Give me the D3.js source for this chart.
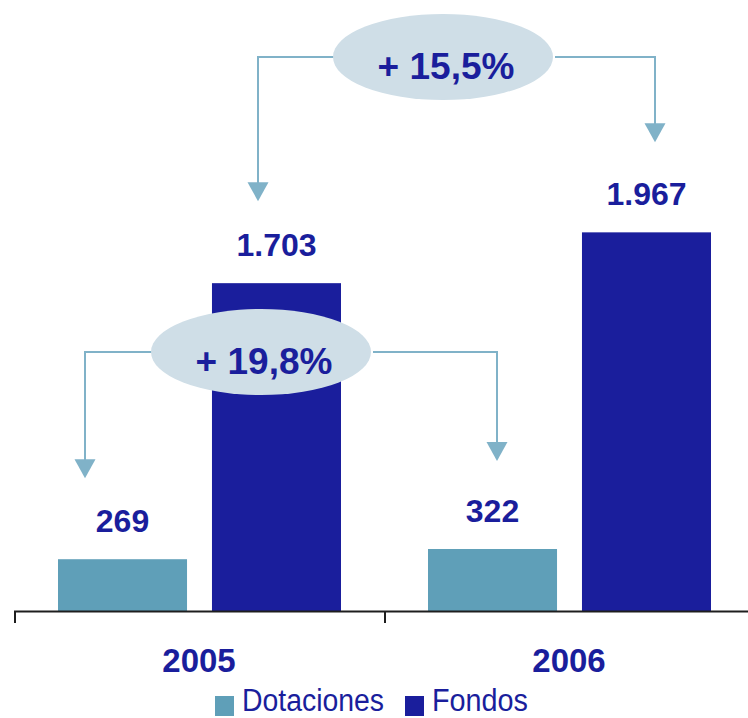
<!DOCTYPE html>
<html>
<head>
<meta charset="utf-8">
<script src="https://cdn.jsdelivr.net/npm/d3@7/dist/d3.min.js"></script>
<style>
  html, body { margin: 0; padding: 0; background: #ffffff; }
  svg { display: block; font-family: "Liberation Sans", Arial, sans-serif; }
</style>
</head>
<body>
<svg id="chart" width="748" height="718"></svg>
<script>
// Data
const years = ["2005", "2006"];
const series = ["Dotaciones", "Fondos"];
const dotaciones = [269, 322];
const fondos = [1703, 1967];
const valueLabels = [["269", "1.703"], ["322", "1.967"]];
const growthLabels = ["+ 19,8%", "+ 15,5%"];

const colors = { Dotaciones: "#5f9fb8", Fondos: "#1a1e9c" };
const textColor = "#1a1e9c";
const lineColor = "#80b2c8";
const bubbleColor = "#cfdee7";

const rows = years.map((y, i) => ({
  year: y,
  values: [
    { key: "Dotaciones", value: dotaciones[i], label: valueLabels[i][0] },
    { key: "Fondos", value: fondos[i], label: valueLabels[i][1] }
  ]
}));

const svg = d3.select("#chart");

const x0 = d3.scaleBand().domain(years).range([14, 754]).padding(0);
const x1 = d3.scaleBand().domain(series).range([44, 327]).paddingInner(0.162).paddingOuter(0);
const y = d3.scaleLinear().domain([0, 2000]).range([611, 226]);

// Bars
const groups = svg.selectAll("g.year")
  .data(rows).enter().append("g")
  .attr("class", "year")
  .attr("transform", d => `translate(${x0(d.year)},0)`);

groups.selectAll("rect")
  .data(d => d.values).enter().append("rect")
  .attr("x", d => x1(d.key))
  .attr("y", d => y(d.value))
  .attr("width", x1.bandwidth())
  .attr("height", d => y(0) - y(d.value))
  .attr("fill", d => colors[d.key]);

groups.selectAll("text.value")
  .data(d => d.values).enter().append("text")
  .attr("class", "value")
  .attr("x", d => x1(d.key) + x1.bandwidth() / 2)
  .attr("y", d => y(d.value) - 27)
  .attr("text-anchor", "middle")
  .attr("font-size", 32)
  .attr("font-weight", "bold")
  .attr("fill", textColor)
  .text(d => d.label);

// Category axis
const axis = svg.append("g").attr("class", "axis");
axis.append("line")
  .attr("x1", x0(years[0])).attr("x2", 748)
  .attr("y1", y(0) + 0.5).attr("y2", y(0) + 0.5)
  .attr("stroke", "#1e1e1e").attr("stroke-width", 2);
const boundaries = years.map(d => x0(d)).concat([x0(years[years.length - 1]) + x0.bandwidth()]);
axis.selectAll("line.tick")
  .data(boundaries).enter().append("line")
  .attr("class", "tick")
  .attr("x1", d => d + 1).attr("x2", d => d + 1)
  .attr("y1", y(0)).attr("y2", y(0) + 12)
  .attr("stroke", "#1e1e1e").attr("stroke-width", 2);
axis.selectAll("text")
  .data(years).enter().append("text")
  .attr("x", d => x0(d) + x0.bandwidth() / 2)
  .attr("y", 672)
  .attr("text-anchor", "middle")
  .attr("font-size", 33)
  .attr("font-weight", "bold")
  .attr("fill", textColor)
  .text(d => d);

// Growth annotations: bubble with elbow arrows pointing to the labels
const annotations = [
  { label: growthLabels[0], cx: 261, cy: 352, key: "Dotaciones",
    fromX: x0("2005") + 71, toX: x0("2006") + 113, tipFrom: 81, tipTo: 88 },
  { label: growthLabels[1], cx: 443, cy: 57, key: "Fondos",
    fromX: x0("2005") + 244, toX: x0("2006") + 271, tipFrom: 82, tipTo: 90 }
];
const rx = 110, ry = 43, headW = 21, headH = 19;

function arrowHead(g, x, tipY) {
  g.append("path")
    .attr("d", `M${x - headW / 2},${tipY - headH} L${x + headW / 2},${tipY - headH} L${x},${tipY} Z`)
    .attr("fill", lineColor);
}

annotations.forEach(a => {
  const idx = series.indexOf(a.key);
  const vFrom = rows[0].values[idx].value;
  const vTo = rows[1].values[idx].value;
  const tipFrom = y(vFrom) - a.tipFrom;
  const tipTo = y(vTo) - a.tipTo;
  const g = svg.append("g").attr("class", "annotation");
  g.append("path")
    .attr("d", `M${a.cx - rx + 2},${a.cy} H${a.fromX} V${tipFrom - headH + 1}`)
    .attr("fill", "none").attr("stroke", lineColor).attr("stroke-width", 2);
  g.append("path")
    .attr("d", `M${a.cx + rx + 2},${a.cy} H${a.toX} V${tipTo - headH + 1}`)
    .attr("fill", "none").attr("stroke", lineColor).attr("stroke-width", 2);
  arrowHead(g, a.fromX, tipFrom);
  arrowHead(g, a.toX, tipTo);
  g.append("ellipse")
    .attr("cx", a.cx).attr("cy", a.cy).attr("rx", rx).attr("ry", ry)
    .attr("fill", bubbleColor);
  g.append("text")
    .attr("x", a.cx + 3).attr("y", a.cy + 22)
    .attr("text-anchor", "middle")
    .attr("font-size", 37)
    .attr("font-weight", "bold")
    .attr("fill", textColor)
    .text(a.label);
});

// Legend
const legendItems = [
  { key: "Dotaciones", sx: 215, tx: 242, len: 142 },
  { key: "Fondos", sx: 405, tx: 432, len: 96 }
];
const legend = svg.append("g").attr("class", "legend");
legend.selectAll("rect")
  .data(legendItems).enter().append("rect")
  .attr("x", d => d.sx).attr("y", 696)
  .attr("width", 19).attr("height", 20)
  .attr("fill", d => colors[d.key]);
legend.selectAll("text")
  .data(legendItems).enter().append("text")
  .attr("x", d => d.tx).attr("y", 711)
  .attr("font-size", 31)
  .attr("textLength", d => d.len)
  .attr("lengthAdjust", "spacingAndGlyphs")
  .attr("fill", textColor)
  .text(d => d.key);
</script>
</body>
</html>
